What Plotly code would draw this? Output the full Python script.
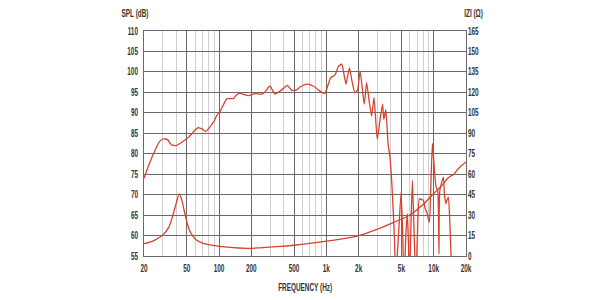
import plotly.graph_objects as go

# SPL response (dB) vs frequency (Hz)
spl_freq = [20, 22, 25, 28, 30, 33, 36, 40, 46, 52, 58, 64, 70, 75, 82, 90, 95, 102, 110, 118,
            136, 146, 157, 170, 188, 217, 250, 268, 290, 300, 315, 333, 369, 400, 433, 475, 527,
            570, 658, 760, 872, 920, 970, 1040, 1100, 1200, 1300, 1390, 1470, 1524, 1640, 1720,
            1845, 1950, 2064, 2254, 2370, 2500, 2640, 2780, 2980, 3150, 3340, 3430, 3580, 3760,
            3900, 4080, 4300, 4430, 4700, 4970, 5150, 5300, 5500, 5690,
            5820, 5940, 6150, 6330, 6550, 6810, 7050, 7360, 7700, 8020, 8300, 8630, 9120, 9400,
            9730, 10100, 10520, 10900, 11200, 11400, 12300, 12600, 12970, 13300, 13700, 14200, 14740]
spl_db = [74, 77, 80.5, 83, 83.6, 83.5, 82.2, 82, 83, 84, 85.4, 86.4, 86, 85.4, 86.5, 88, 89.3,
          90.3, 92, 93.4, 93.5, 94.4, 94.8, 94.5, 94.2, 94.7, 94.6, 95.1, 96.3, 96.5, 95.5, 94.6,
          95.3, 96, 96.7, 95.5, 95.6, 96.3, 97, 96.5, 95.3, 94.9, 94.8, 96.9, 98.6, 99.2, 101.4,
          101.9, 99, 97, 101, 98.2, 94.9, 95.5, 100.2, 92.1, 97.4, 93, 89.2, 93.7, 83.5, 88,
          92.1, 88.4, 90.8, 82.3, 79.5, 72.5, 60, 50, 60, 70.6, 60, 48, 60, 65.3,
          58, 48, 63, 73.5, 62, 48, 60, 69, 68.8, 68.6, 66.7, 65.7, 63.2, 72, 82.5, 77, 71.9, 71,
          55.5, 71, 74.3, 70, 67.8, 68.7, 69.4, 62, 50]

# Impedance (ohm) vs frequency (Hz)
imp_freq = [20, 25, 30, 34, 37.5, 40, 42.6, 45, 48.4, 52.9, 57, 62, 70, 88, 120, 182, 240, 370,
            495, 700, 1010, 1400, 1930, 2950, 4500, 5200, 6400, 7400, 8500, 9900, 12000, 13300,
            14000, 14700, 15500, 16500, 18000, 20000]
imp_ohm = [9, 11.5, 15.5, 21, 31, 39, 45.5, 41, 30, 19, 14.5, 11.5, 9.5, 7.8, 6.5, 5.6, 6.0, 7.0,
           7.9, 9.2, 10.9, 12.6, 14.5, 19.5, 25.5, 27.5, 31.5, 35.5, 40, 45.5, 52, 56.5, 58, 59,
           60, 63, 66, 69]

x_major = [20, 50, 100, 200, 500, 1000, 2000, 5000, 10000, 20000]
x_labels = ["20", "50", "100", "200", "500", "1k", "2k", "5k", "10k", "20k"]
x_minor = [30, 40, 60, 70, 80, 90, 300, 400, 600, 700, 800, 900,
           3000, 4000, 6000, 7000, 8000, 9000]
spl_ticks = list(range(55, 111, 5))
imp_ticks = list(range(0, 166, 15))

RED = "#d8422c"
FONT = "Liberation Sans, Arial, sans-serif"
TXT = "#333333"
GRID = "#6a6a6a"
TF = dict(family=FONT, size=10, color=TXT, weight="bold")

fig = go.Figure()
fig.add_trace(go.Scatter(x=spl_freq, y=spl_db, mode="lines",
                         line=dict(color=RED, width=1.3, shape="spline", smoothing=0.5),
                         hoverinfo="skip", showlegend=False))
fig.add_trace(go.Scatter(x=imp_freq, y=imp_ohm, mode="lines", yaxis="y2",
                         line=dict(color=RED, width=1.3, shape="spline", smoothing=0.8),
                         hoverinfo="skip", showlegend=False))

fig.update_layout(
    width=600, height=300,
    margin=dict(l=144, r=134, t=31, b=44),
    paper_bgcolor="white", plot_bgcolor="white",
    font=TF,
    xaxis=dict(type="log", range=[1.30103, 4.30103],
               tickmode="array", tickvals=x_major, ticktext=x_labels,
               showgrid=True, gridcolor=GRID, gridwidth=1,
               minor=dict(tickmode="array", tickvals=x_minor, showgrid=True,
                          gridcolor="#cfcfcf", gridwidth=1),
               showline=True, linecolor=GRID, linewidth=1, mirror=True,
               ticks="", zeroline=False, ticklabelstandoff=3, tickfont=TF),
    yaxis=dict(range=[55, 110], tickmode="array", tickvals=spl_ticks,
               showgrid=True, gridcolor=GRID, gridwidth=1,
               showline=True, linecolor=GRID, linewidth=1, mirror=True,
               ticks="", zeroline=False, ticklabelstandoff=3, tickfont=TF),
    yaxis2=dict(range=[0, 165], tickmode="array", tickvals=imp_ticks,
                overlaying="y", side="right", showgrid=False,
                ticks="", zeroline=False, ticklabelstandoff=1, tickfont=TF),
    annotations=[
        dict(text="SPL (dB)", xref="paper", yref="paper", x=-0.028, y=1.0, yshift=18,
             yanchor="middle", showarrow=False, font=TF, xanchor="center"),
        dict(text="IZI (Ω)", xref="paper", yref="paper", x=1.023, y=1.0, yshift=18,
             yanchor="middle", showarrow=False, font=TF, xanchor="center"),
        dict(text="FREQUENCY (Hz)", xref="paper", yref="paper", x=0.5, y=0.0, yshift=-31,
             yanchor="middle", showarrow=False, font=TF, xanchor="center"),
    ],
)

# Condense the glyphs (reference uses a condensed face) while keeping text as text
squeeze_js = """
var gd = document.getElementById('{plot_id}');
gd.querySelectorAll('svg text').forEach(function(t){
  var w = t.getComputedTextLength();
  if (w > 0) {
    t.setAttribute('textLength', (w * 0.64).toFixed(2));
    t.setAttribute('lengthAdjust', 'spacingAndGlyphs');
  }
});
"""

fig.write_html("out.html", post_script=squeeze_js)
